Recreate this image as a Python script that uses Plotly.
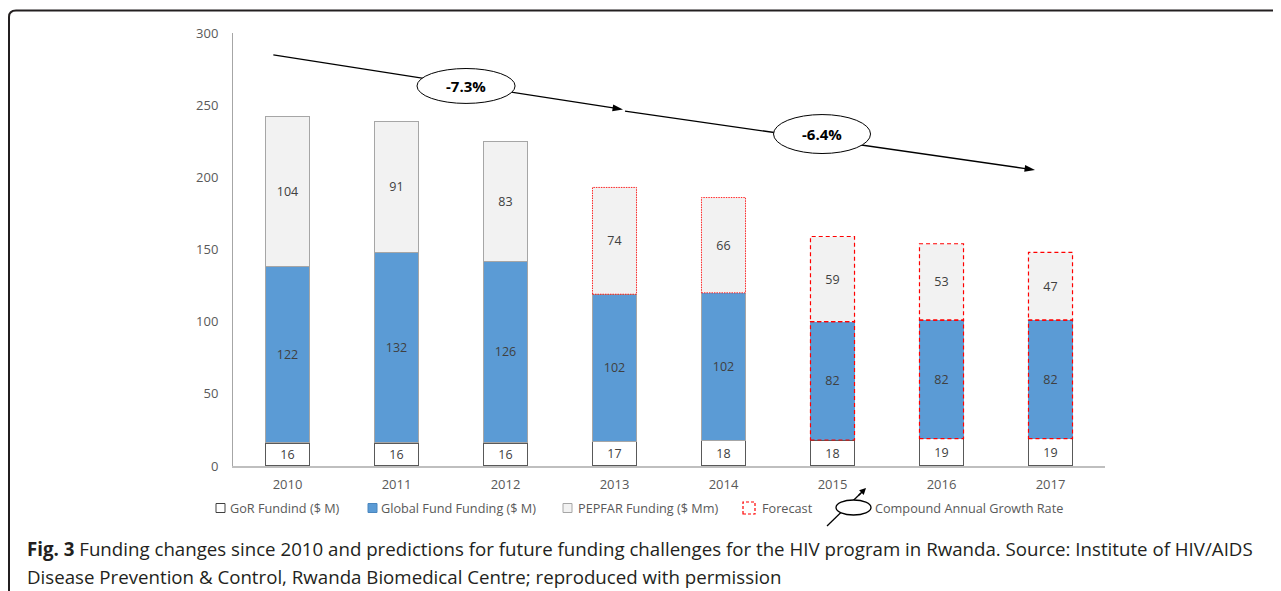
import plotly.graph_objects as go

# ---------------- data ----------------
years = ["2010", "2011", "2012", "2013", "2014", "2015", "2016", "2017"]
gor_funding = [16, 16, 16, 17, 18, 18, 19, 19]
global_fund = [122, 132, 126, 102, 102, 82, 82, 82]
pepfar_funding = [104, 91, 83, 74, 66, 59, 53, 47]
y_ticks = [0, 50, 100, 150, 200, 250, 300]
cagr_labels = ["-7.3%", "-6.4%"]
legend_labels = ["GoR Fundind ($ M)", "Global Fund Funding ($ M)", "PEPFAR Funding ($ Mm)",
                 "Forecast", "Compound Annual Growth Rate"]
caption_bold = "Fig. 3"
caption_line1 = (" Funding changes since 2010 and predictions for future funding challenges for the "
                 "HIV program in Rwanda. Source: Institute of HIV/AIDS")
caption_line2 = "Disease Prevention &amp; Control, Rwanda Biomedical Centre; reproduced with permission"

# ---------------- styling ----------------
FONT = "Open Sans"
LABEL_GRAY = "#595959"
TEXT_DARK = "#404040"
BLUE = "#5B9BD5"
LIGHT = "#F2F2F2"
RED = "#FF0000"
BAR_W = 0.404

# forecast markers (PEPFAR from 2013, Global Fund from 2015)
pepfar_fc_start = years.index("2013")
gf_fc_start = years.index("2015")

OFF = 8                      # page body offset of the figure
SCREEN_W, SCREEN_H = 1281, 591
W, H = SCREEN_W - OFF, SCREEN_H - OFF
# plot area in screen pixels
PL, PR, PT, PB = 233, 1105, 33, 466


def px(x):
    return (x - PL) / (PR - PL)


def py(y):
    return (PB - y) / (PB - PT)


xs = list(range(len(years)))

fig = go.Figure()

common_text = dict(textposition="inside", insidetextanchor="middle", constraintext="none",
                   textangle=0, texttemplate="%{y}",
                   textfont=dict(family=FONT, size=12.5, color=TEXT_DARK),
                   hoverinfo="skip", showlegend=False, width=BAR_W)

fig.add_trace(go.Bar(x=xs, y=gor_funding, name=legend_labels[0],
                     marker=dict(color="white", line=dict(color="#595959", width=1.5)),
                     **common_text))

gf_line_w = [1 if i < gf_fc_start else 0 for i in xs]
fig.add_trace(go.Bar(x=xs, y=global_fund, name=legend_labels[1],
                     marker=dict(color=BLUE, line=dict(color="#A6A6A6", width=gf_line_w)),
                     **common_text))

pep_line_w = [1 if i < pepfar_fc_start else 0 for i in xs]
fig.add_trace(go.Bar(x=xs, y=pepfar_funding, name=legend_labels[2],
                     marker=dict(color=LIGHT, line=dict(color="#A6A6A6", width=pep_line_w)),
                     **common_text))

shapes = []
# forecast dashed outlines
for i in xs:
    base = gor_funding[i]
    mid = base + global_fund[i]
    top = mid + pepfar_funding[i]
    if i >= pepfar_fc_start:
        if i < gf_fc_start:
            ln = dict(color="rgba(255,0,0,0.85)", width=1, dash="1.5px,1px")
        else:
            ln = dict(color=RED, width=1.2, dash="4px,3px")
        shapes.append(dict(type="rect", xref="x", yref="y", x0=i - BAR_W / 2, x1=i + BAR_W / 2,
                           y0=mid, y1=top, line=ln,
                           fillcolor="rgba(0,0,0,0)", layer="above"))
    if i >= gf_fc_start:
        shapes.append(dict(type="rect", xref="x", yref="y", x0=i - BAR_W / 2, x1=i + BAR_W / 2,
                           y0=base, y1=mid, line=dict(color=RED, width=1.2, dash="4px,3px"),
                           fillcolor="rgba(0,0,0,0)", layer="above"))

# CAGR arrows (drawn as traces so the ellipses sit on top of them)
arrow_segments = [
    ([-0.130, 3.078], [284.8, 247.0]),
    ([3.096, 6.858], [245.9, 205.1]),
]
for ax_, ay_ in arrow_segments:
    fig.add_trace(go.Scatter(x=ax_, y=ay_, mode="lines+markers",
                             line=dict(color="black", width=1.3),
                             marker=dict(symbol="arrow", size=[0, 11], color="black",
                                         opacity=[0, 1], angleref="previous",
                                         line=dict(width=0)),
                             hoverinfo="skip", showlegend=False, cliponaxis=False))

ellipses = [(1.638, 263.3, 0.45, 12.1), (4.904, 230.0, 0.445, 13.5)]
annotations = []
for (cx, cy, rx, ry), lab in zip(ellipses, cagr_labels):
    shapes.append(dict(type="circle", xref="x", yref="y", x0=cx - rx, x1=cx + rx,
                       y0=cy - ry, y1=cy + ry, fillcolor="white",
                       line=dict(color="black", width=1), layer="above"))
    annotations.append(dict(x=cx, y=cy, xref="x", yref="y", text=f"<b>{lab}</b>",
                            showarrow=False, font=dict(family=FONT, size=15, color="black")))

# frame around figure
frame_path = (f"M {px(9)} {py(620)} L {px(9)} {py(17)} "
              f"Q {px(9)} {py(10.5)} {px(16)} {py(10.5)} L {px(1300)} {py(10.5)}")
shapes.append(dict(type="path", xref="paper", yref="paper", path=frame_path,
                   line=dict(color="#231F20", width=2)))

# custom legend
leg_y = 508
shapes += [
    dict(type="rect", xref="paper", yref="paper", x0=px(216), x1=px(225), y0=py(512.5), y1=py(503.5),
         fillcolor="white", line=dict(color="#404040", width=1)),
    dict(type="rect", xref="paper", yref="paper", x0=px(368), x1=px(377), y0=py(512.5), y1=py(503.5),
         fillcolor=BLUE, line=dict(color="#4A86BE", width=1)),
    dict(type="rect", xref="paper", yref="paper", x0=px(563), x1=px(572), y0=py(512.5), y1=py(503.5),
         fillcolor=LIGHT, line=dict(color="#A6A6A6", width=1)),
    dict(type="rect", xref="paper", yref="paper", x0=px(743), x1=px(755), y0=py(514), y1=py(502),
         fillcolor="white", line=dict(color=RED, width=1.2, dash="3px,2px")),
    dict(type="line", xref="paper", yref="paper", x0=px(827), y0=py(526), x1=px(861), y1=py(493),
         line=dict(color="black", width=1.3)),
    dict(type="circle", xref="paper", yref="paper", x0=px(836), x1=px(871), y0=py(515), y1=py(500),
         fillcolor="white", line=dict(color="black", width=1.3)),
]
annotations.append(dict(x=px(866), y=py(488), xref="paper", yref="paper", showarrow=True,
                        ax=-9, ay=9, arrowhead=2, arrowsize=1, arrowwidth=1.3,
                        arrowcolor="black", text=""))
for xpos, lab in zip([228, 379, 576, 760, 873], legend_labels):
    annotations.append(dict(x=px(xpos), y=py(leg_y), xref="paper", yref="paper", text=lab,
                            showarrow=False, xanchor="left", yanchor="middle",
                            font=dict(family=FONT, size=12.7, color=LABEL_GRAY)))

# caption
annotations.append(dict(x=px(25), y=py(548), xref="paper", yref="paper",
                        text=f"<b>{caption_bold}</b>{caption_line1}", showarrow=False,
                        xanchor="left", yanchor="middle",
                        font=dict(family=FONT, size=18.7, color="#231F20")))
annotations.append(dict(x=px(25), y=py(576), xref="paper", yref="paper",
                        text=caption_line2, showarrow=False,
                        xanchor="left", yanchor="middle",
                        font=dict(family=FONT, size=18.7, color="#231F20")))

fig.update_layout(
    width=W, height=H, autosize=False,
    margin=dict(l=PL - OFF, r=W - (PR - OFF), t=PT - OFF, b=H - (PB - OFF), pad=0),
    paper_bgcolor="white", plot_bgcolor="white",
    barmode="stack", showlegend=False,
    shapes=shapes, annotations=annotations,
    uniformtext=dict(minsize=12.5, mode="show"),
    xaxis=dict(range=[-0.5, len(years) - 0.5], tickmode="array", tickvals=xs, ticktext=years,
               showgrid=False, zeroline=False, showline=True, linecolor="#BFBFBF", linewidth=2,
               ticks="", tickfont=dict(family=FONT, size=13, color=LABEL_GRAY),
               ticklabelstandoff=5, fixedrange=True),
    yaxis=dict(range=[0, 300], tickmode="array", tickvals=y_ticks,
               showgrid=False, zeroline=False, showline=True, linecolor="#A6A6A6", linewidth=1,
               ticks="", tickfont=dict(family=FONT, size=13, color=LABEL_GRAY),
               ticklabelstandoff=11, fixedrange=True),
)

fig.write_html("out.html")
